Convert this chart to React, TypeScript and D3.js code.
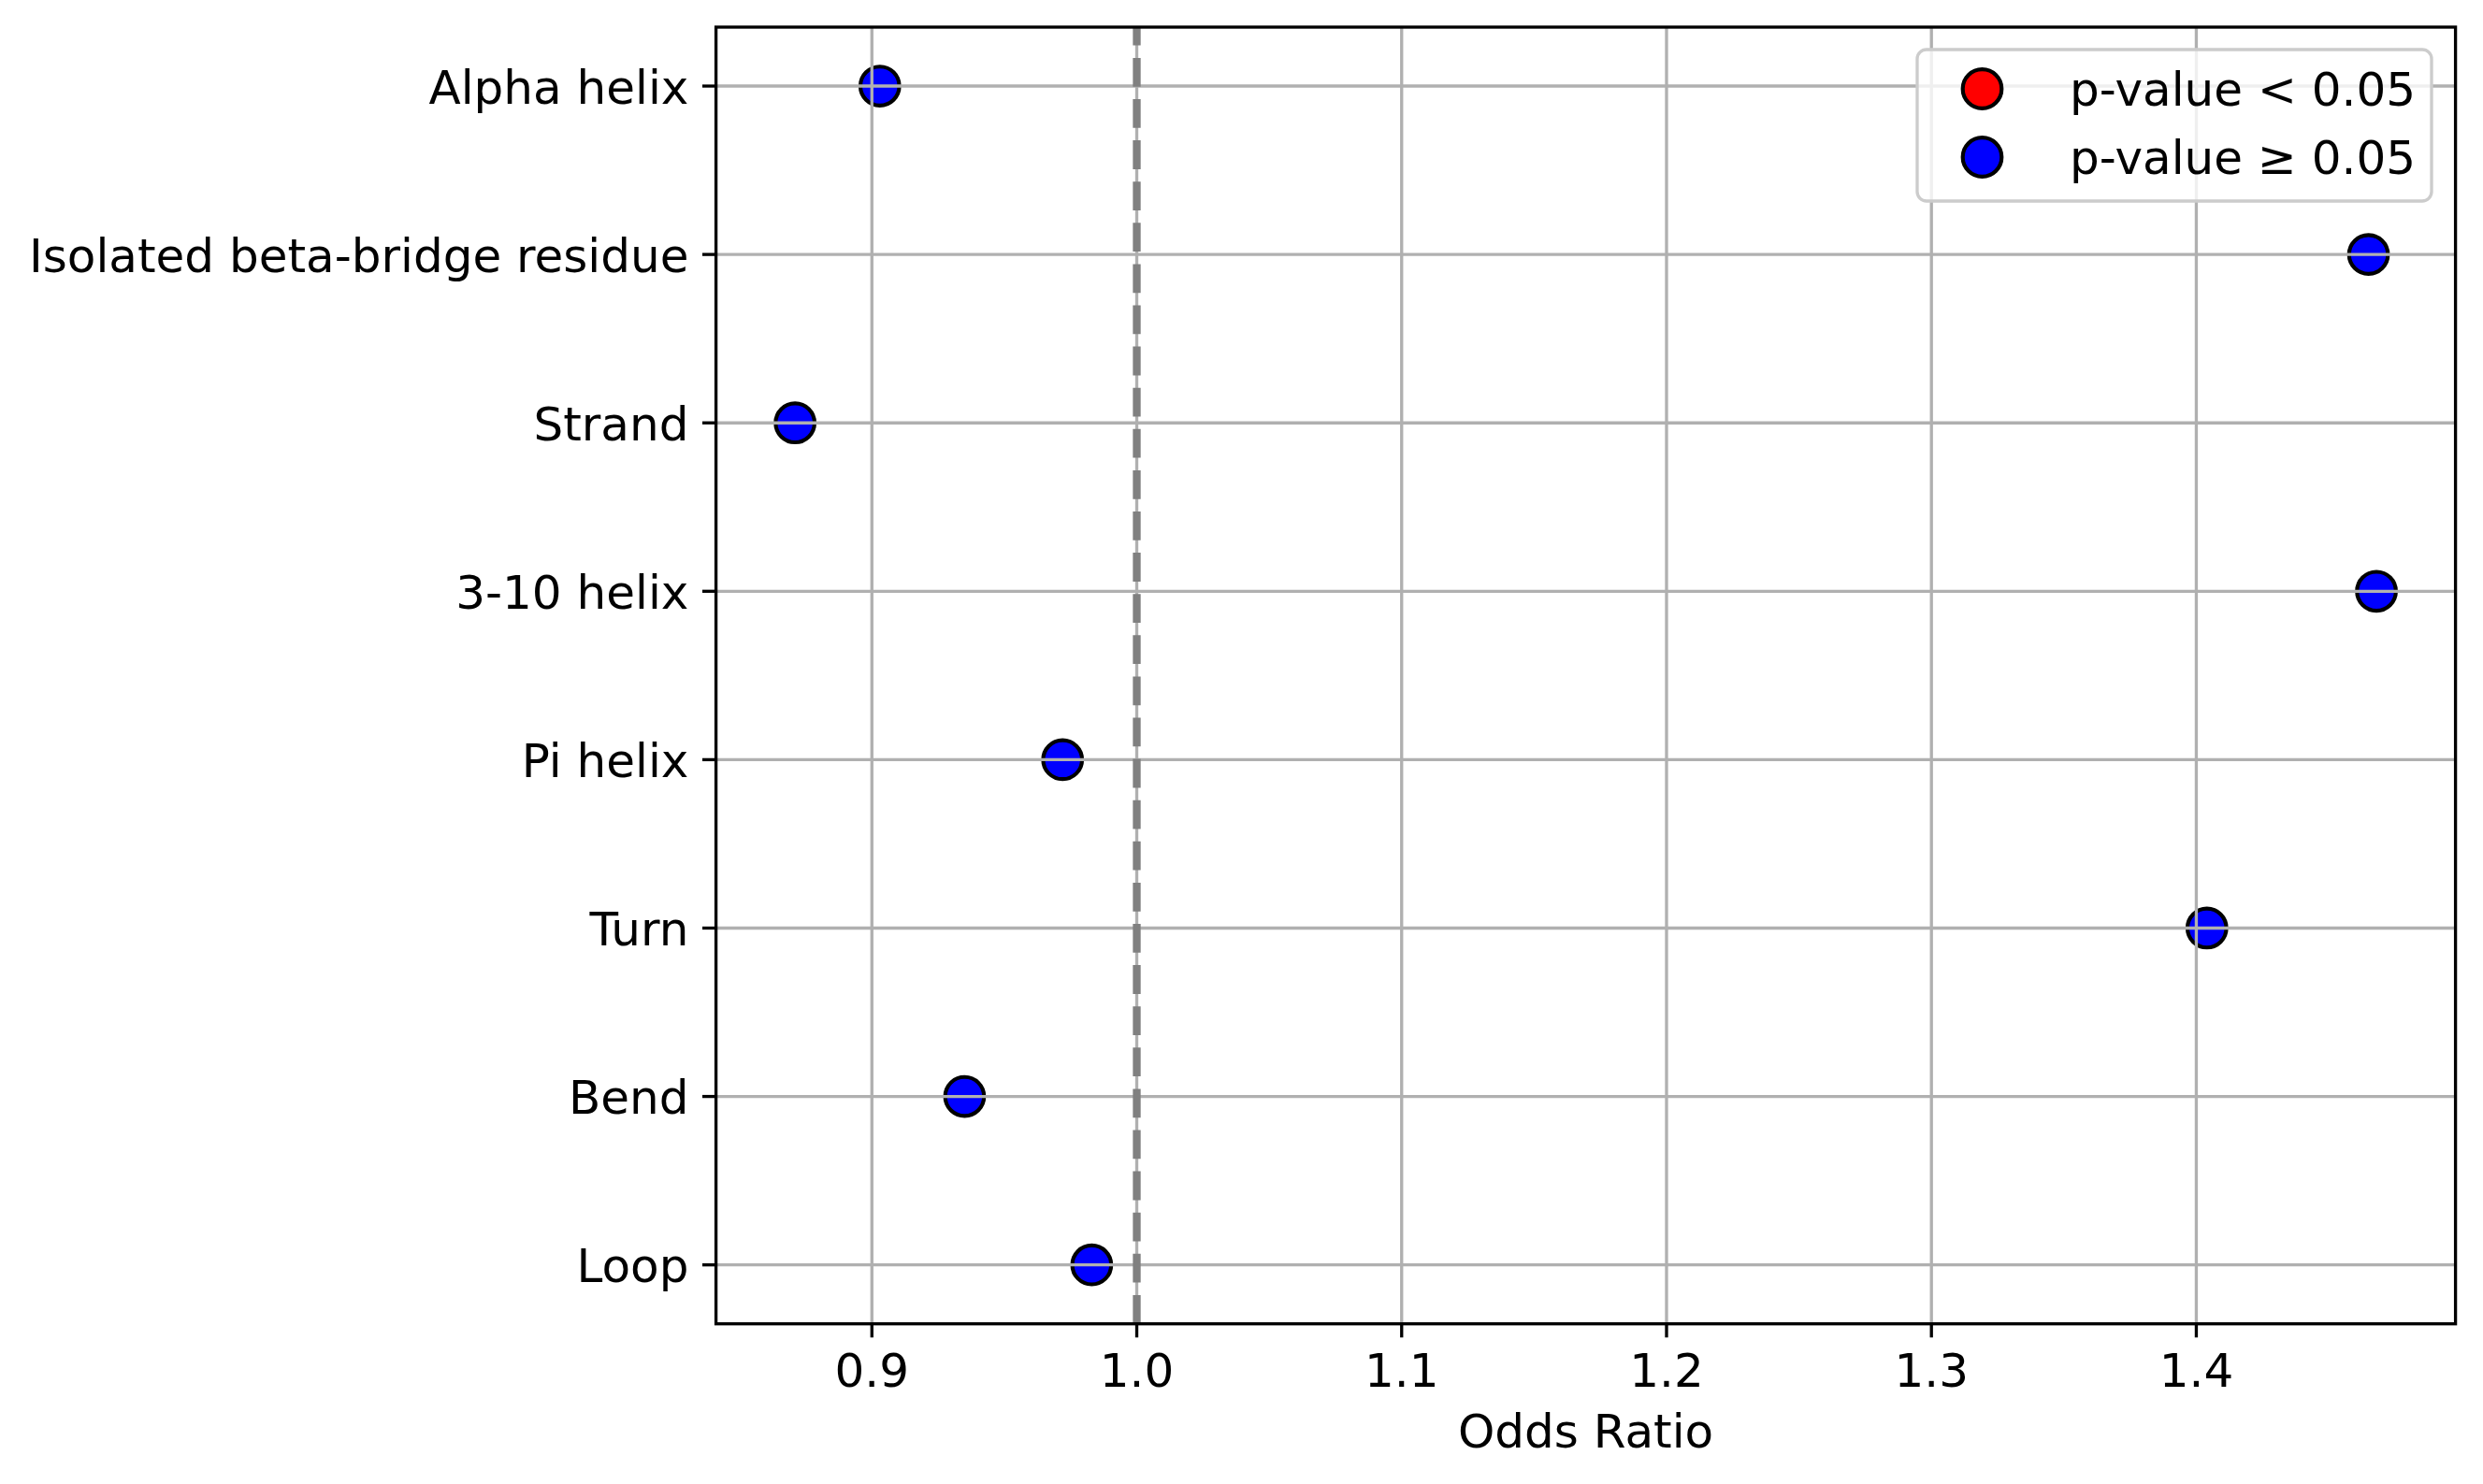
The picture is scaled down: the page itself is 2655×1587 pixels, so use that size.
import { useEffect, useRef } from "react";
import * as d3 from "d3";

const categories = [
  "Alpha helix",
  "Isolated beta-bridge residue",
  "Strand",
  "3-10 helix",
  "Pi helix",
  "Turn",
  "Bend",
  "Loop",
];
const oddsRatios = [0.903, 1.465, 0.871, 1.468, 0.972, 1.404, 0.935, 0.983];
const significant = [false, false, false, false, false, false, false, false];
const xTicks = [0.9, 1.0, 1.1, 1.2, 1.3, 1.4];
const legendLabels = ["p-value < 0.05", "p-value \u2265 0.05"];
const legendColors = ["red", "blue"];

function App() {
  const svgRef = useRef<SVGSVGElement>(null);

  useEffect(() => {
    document.body.style.margin = "0";
    if (!svgRef.current) return;

    const svg = d3.select(svgRef.current);
    svg.selectAll("*").remove();

    const width = 2655;
    const height = 1587;
    const left = 765.6;
    const right = 2625.6;
    const top = 29;
    const bottom = 1415.7;
    const font = "DejaVu Sans, sans-serif";
    const fontSize = 50;
    const lw = 3.33; // 0.8pt at 300 dpi

    svg.attr("width", width).attr("height", height);
    svg.append("rect").attr("width", width).attr("height", height).attr("fill", "white");

    // x 轴范围：数据范围加 5% 边距
    const [mn, mx] = d3.extent(oddsRatios) as [number, number];
    const pad = (mx - mn) * 0.05;
    const x = d3.scaleLinear().domain([mn - pad, mx + pad]).range([left, right]);
    const y = d3.scalePoint<string>().domain(categories).range([top, bottom]).padding(0.35);

    // 散点（在网格线下面）
    svg
      .append("g")
      .selectAll("circle")
      .data(categories)
      .enter()
      .append("circle")
      .attr("cx", (_, i) => x(oddsRatios[i]))
      .attr("cy", (d) => y(d) as number)
      .attr("r", 20.8)
      .attr("fill", (_, i) => (significant[i] ? "red" : "blue"))
      .attr("stroke", "black")
      .attr("stroke-width", 4.17);

    // 网格线
    const grid = svg.append("g").attr("stroke", "#b0b0b0").attr("stroke-width", lw);
    grid
      .selectAll(".vx")
      .data(xTicks)
      .enter()
      .append("line")
      .attr("x1", (d) => x(d))
      .attr("x2", (d) => x(d))
      .attr("y1", top)
      .attr("y2", bottom);
    grid
      .selectAll(".hy")
      .data(categories)
      .enter()
      .append("line")
      .attr("x1", left)
      .attr("x2", right)
      .attr("y1", (d) => y(d) as number)
      .attr("y2", (d) => y(d) as number);

    // 参考线 OR = 1
    svg
      .append("line")
      .attr("x1", x(1))
      .attr("x2", x(1))
      .attr("y1", bottom)
      .attr("y2", top)
      .attr("stroke", "gray")
      .attr("stroke-width", 8.33)
      .attr("stroke-dasharray", "30.8,13.3");

    // 坐标轴边框
    svg
      .append("rect")
      .attr("x", left)
      .attr("y", top)
      .attr("width", right - left)
      .attr("height", bottom - top)
      .attr("fill", "none")
      .attr("stroke", "black")
      .attr("stroke-width", lw);

    // x 轴刻度
    const xt = svg.append("g").selectAll("g").data(xTicks).enter().append("g");
    xt.append("line")
      .attr("x1", (d) => x(d))
      .attr("x2", (d) => x(d))
      .attr("y1", bottom)
      .attr("y2", bottom + 14.6)
      .attr("stroke", "black")
      .attr("stroke-width", lw);
    xt.append("text")
      .attr("x", (d) => x(d))
      .attr("y", 1483)
      .attr("text-anchor", "middle")
      .style("font-family", font)
      .style("font-size", `${fontSize}px`)
      .text((d) => d3.format(".1f")(d));

    // y 轴刻度
    const yt = svg.append("g").selectAll("g").data(categories).enter().append("g");
    yt.append("line")
      .attr("x1", left - 14.6)
      .attr("x2", left)
      .attr("y1", (d) => y(d) as number)
      .attr("y2", (d) => y(d) as number)
      .attr("stroke", "black")
      .attr("stroke-width", lw);
    yt.append("text")
      .attr("x", left - 29.2)
      .attr("y", (d) => (y(d) as number) + 18.5)
      .attr("text-anchor", "end")
      .style("font-family", font)
      .style("font-size", `${fontSize}px`)
      .text((d) => d);

    // x 轴标题
    svg
      .append("text")
      .attr("x", (left + right) / 2)
      .attr("y", 1548)
      .attr("text-anchor", "middle")
      .style("font-family", font)
      .style("font-size", `${fontSize}px`)
      .text("Odds Ratio");

    // 图例
    const legend = svg.append("g");
    legend
      .append("rect")
      .attr("x", 2050)
      .attr("y", 53)
      .attr("width", 550)
      .attr("height", 162)
      .attr("rx", 10)
      .attr("fill", "white")
      .attr("fill-opacity", 0.8)
      .attr("stroke", "#cccccc")
      .attr("stroke-width", lw);
    const items = legend
      .selectAll(".legend-item")
      .data(legendLabels)
      .enter()
      .append("g")
      .attr("transform", (_, i) => `translate(0, ${95 + i * 73})`);
    items
      .append("circle")
      .attr("cx", 2119.5)
      .attr("cy", 0)
      .attr("r", 20.8)
      .attr("fill", (_, i) => legendColors[i])
      .attr("stroke", "black")
      .attr("stroke-width", 4.17);
    items
      .append("text")
      .attr("x", 2213)
      .attr("y", 17.5)
      .style("font-family", font)
      .style("font-size", `${fontSize}px`)
      .text((d) => d);
  }, []);

  return <svg ref={svgRef} style={{ display: "block" }} />;
}

export default App;
